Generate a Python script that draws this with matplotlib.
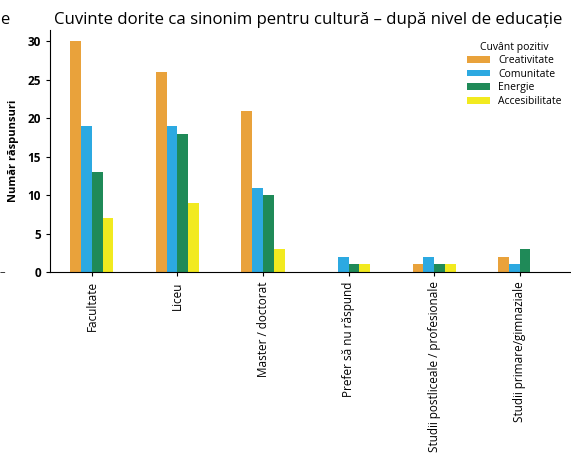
import matplotlib
matplotlib.use("Agg")
import matplotlib.pyplot as plt
import numpy as np

plt.rcParams['font.family'] = ['Open Sans', 'DejaVu Sans']

categories = ["Facultate", "Liceu", "Master / doctorat", "Prefer să nu răspund",
              "Studii postliceale / profesionale", "Studii primare/gimnaziale"]
series_names = ["Creativitate", "Comunitate", "Energie", "Accesibilitate"]
creativitate = [30, 26, 21, 0, 1, 2]
comunitate = [19, 19, 11, 2, 2, 1]
energie = [13, 18, 10, 1, 1, 3]
accesibilitate = [7, 9, 3, 1, 1, 0]
colors = ["#E9A23B", "#2CA9E1", "#1F8A58", "#F2EA1F"]

fig = plt.figure(figsize=(5.71, 4.66), dpi=100)
ax = fig.add_axes([0.0876, 0.416, 0.9124, 0.52])

x = np.arange(len(categories))
w = 0.126
for i, (vals, name, c) in enumerate(zip([creativitate, comunitate, energie, accesibilitate],
                                        series_names, colors)):
    ax.bar(x + (i - 1.5) * w, vals, width=w, color=c, label=name)

ax.set_xlim(-0.49, 5.6)
ax.set_ylim(0, 31.5)
ax.set_yticks([0, 5, 10, 15, 20, 25, 30])
ax.set_xticks(x)
ax.set_xticklabels(categories, rotation=90, fontsize=8.5)
ax.tick_params(axis='y', labelsize=8.5, length=3)
ax.tick_params(axis='x', length=3)
for lab in ax.get_yticklabels():
    lab.set_fontweight('bold')
ax.set_ylabel("Număr răspunsuri", fontsize=8, fontweight='bold', labelpad=6)
ax.spines['top'].set_visible(False)
ax.spines['right'].set_visible(False)

fig.text(0.54, 0.958, "Cuvinte dorite ca sinonim pentru cultură – după nivel de educație",
         ha='center', va='center', fontsize=12.1)
fig.text(0.0, 0.958, "e", ha='left', va='center', fontsize=12)
fig.text(0.0, 0.416, "–", ha='left', va='center', fontsize=8)

leg = ax.legend(title="Cuvânt pozitiv", loc='upper right', bbox_to_anchor=(1.0, 0.99),
                frameon=False, fontsize=7.5, title_fontsize=7.5, handlelength=2.2,
                handleheight=0.6, labelspacing=0.25)

fig.savefig("out.png", dpi=100)
